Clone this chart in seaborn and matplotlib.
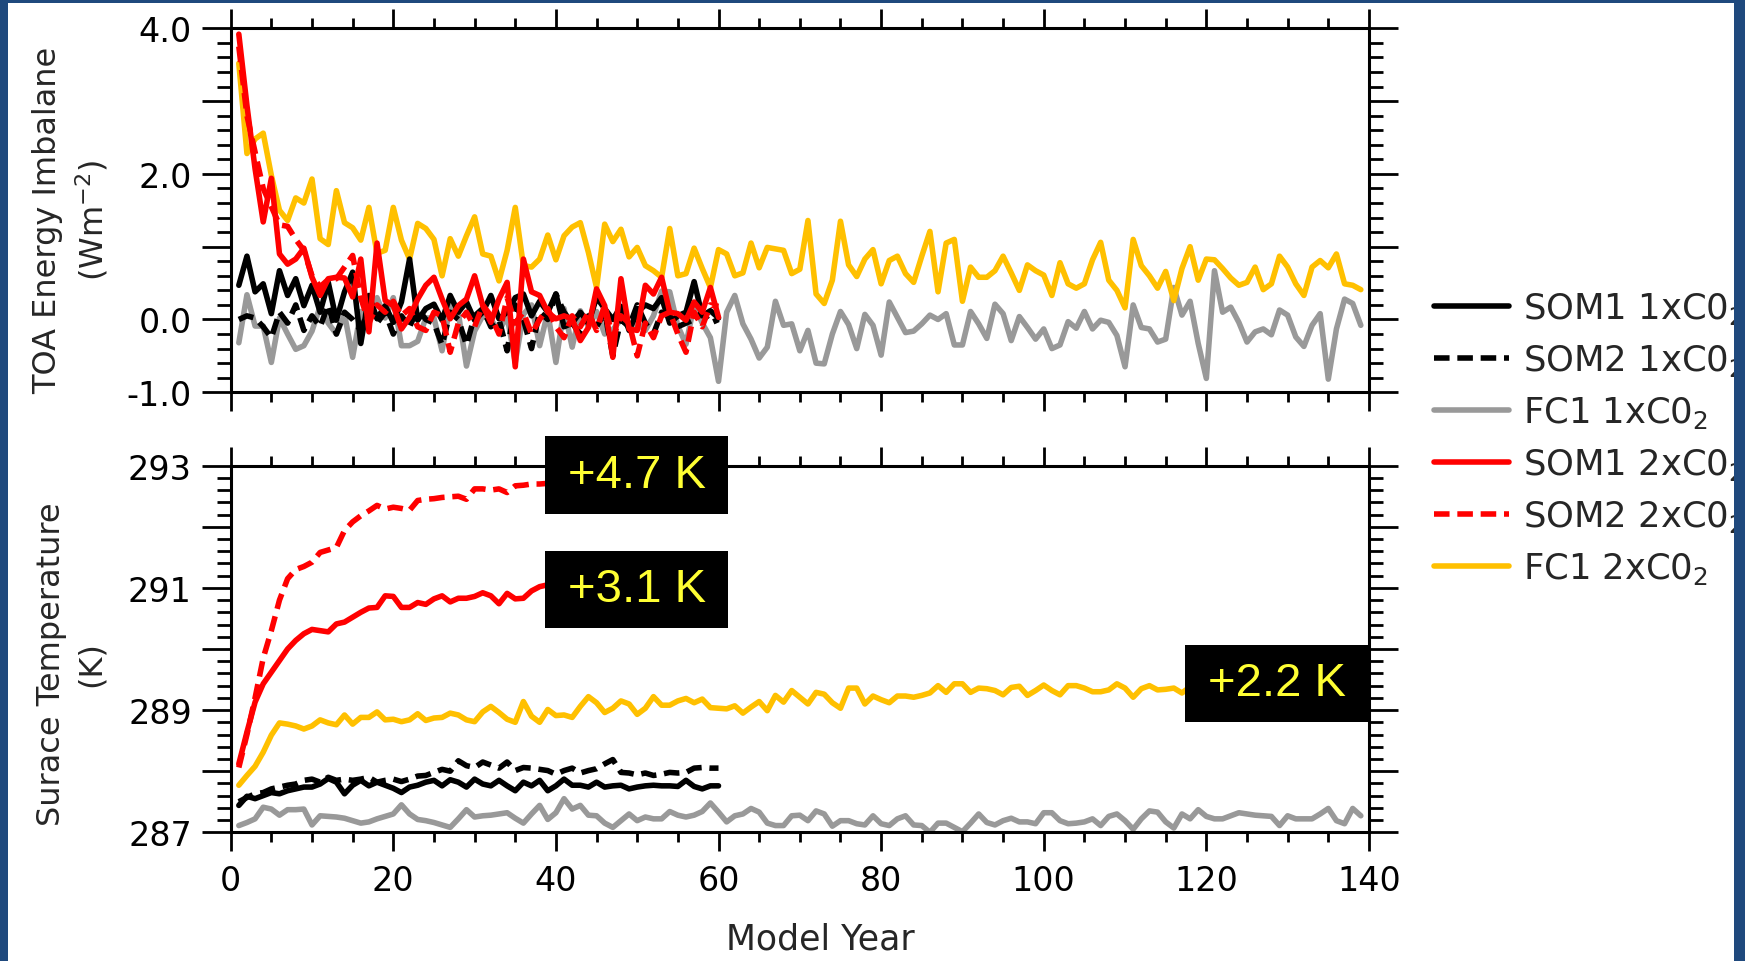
import numpy as np
import matplotlib
matplotlib.use("Agg")
import matplotlib.pyplot as plt
import matplotlib.ticker as mticker
from matplotlib.patches import Rectangle
import seaborn as sns

sns.set_style("ticks")
plt.rcParams['font.family'] = ['DejaVu Sans']

# ---- TOA energy imbalance (W m-2), one value per model year starting at year 1
toa_som1_1x = [0.47, 0.87, 0.38, 0.49, 0.08, 0.67, 0.33, 0.56, 0.19, 0.47,
               0.10, 0.51, -0.01, 0.38, 0.65, -0.33, 0.33, 0.01, 0.19, -0.04,
               0.24, 0.83, -0.01, 0.15, 0.21, -0.01, 0.33, 0.10, 0.24, -0.01,
               0.10, 0.33, 0.01, 0.10, 0.30, 0.35, 0.05, 0.25, 0.10, 0.35,
               -0.10, -0.05, 0.10, -0.05, 0.30, 0.15, 0.00, 0.18, -0.15, 0.10,
               0.20, 0.15, 0.30, -0.05, 0.05, 0.10, 0.52, 0.05, 0.12, 0.02]
toa_som2_1x = [0.00, 0.05, 0.02, -0.10, -0.25, 0.10, -0.05, 0.20, -0.15, 0.05,
               -0.10, 0.20, -0.20, 0.10, 0.00, -0.15, 0.15, -0.05, 0.10, -0.20,
               0.05, -0.10, 0.15, 0.00, -0.05, -0.35, 0.10, 0.00, -0.35, 0.05,
               0.15, -0.10, 0.00, -0.43, 0.20, 0.00, -0.40, 0.10, 0.00, 0.35,
               0.10, -0.05, -0.20, 0.05, -0.10, 0.10, -0.50, 0.00, -0.10, 0.20,
               -0.05, -0.20, 0.10, 0.05, -0.10, -0.05, 0.00, 0.10, -0.05, 0.00]
toa_fc1_1x = [-0.32, 0.34, -0.09, -0.09, -0.59, 0.02, -0.20, -0.41, -0.36, -0.16,
              0.18, -0.05, -0.20, 0.07, -0.52, 0.11, 0.07, 0.30, 0.02, 0.30,
              -0.36, -0.36, -0.30, 0.02, 0.02, -0.43, 0.20, 0.09, -0.64, -0.16,
              0.05, 0.00, -0.16, 0.05, -0.59, 0.07, 0.20, -0.36, 0.10, -0.59,
              0.15, -0.38, 0.12, -0.10, 0.11, -0.20, -0.14, 0.00, -0.10, -0.05,
              -0.15, 0.05, 0.39, 0.38, -0.09, -0.34, 0.20, -0.05, -0.25, -0.85,
              0.10, 0.33, -0.06, -0.27, -0.53, -0.38, 0.25, -0.08, -0.06, -0.43,
              -0.15, -0.60, -0.61, -0.20, 0.11, -0.07, -0.40, 0.07, -0.08, -0.49,
              0.24, 0.03, -0.18, -0.16, -0.06, 0.06, 0.00, 0.08, -0.35, -0.35,
              0.11, -0.06, -0.26, 0.21, 0.08, -0.29, 0.04, -0.11, -0.27, -0.13,
              -0.40, -0.35, -0.03, -0.12, 0.11, -0.13, -0.01, -0.04, -0.22, -0.65,
              0.20, -0.11, -0.13, -0.31, -0.27, 0.44, 0.06, 0.25, -0.33, -0.81,
              0.67, 0.10, 0.17, -0.04, -0.31, -0.17, -0.13, -0.21, 0.13, 0.06,
              -0.24, -0.37, -0.08, 0.08, -0.82, -0.13, 0.28, 0.22, -0.08]
toa_som1_2x = [3.92, 2.94, 2.07, 1.34, 1.94, 0.90, 0.76, 0.83, 0.98, 0.58,
               0.33, 0.56, 0.58, 0.57, 0.31, 0.83, -0.17, 1.05, 0.26, 0.19,
               -0.13, 0.03, 0.28, 0.47, 0.58, 0.28, 0.01, 0.19, 0.28, 0.60,
               0.19, -0.04, 0.28, 0.51, -0.65, 0.83, 0.38, 0.33, 0.10, 0.01,
               0.05, 0.01, -0.29, -0.11, 0.42, 0.19, -0.52, 0.56, -0.13, -0.15,
               0.47, 0.35, 0.58, 0.10, 0.08, -0.01, 0.24, 0.10, 0.44, 0.03]
toa_som2_2x = [3.75, 2.80, 2.30, 1.80, 1.55, 1.30, 1.28, 1.10, 0.95, 0.60,
               0.45, 0.55, 0.56, 0.72, 0.88, 0.30, -0.05, 0.20, 0.10, 0.25,
               0.05, 0.15, -0.10, -0.15, 0.10, 0.05, -0.45, -0.05, 0.10, -0.10,
               0.20, 0.05, -0.20, 0.30, -0.05, 0.10, -0.20, 0.00, 0.15, -0.10,
               -0.25, 0.05, -0.10, 0.10, -0.15, 0.20, -0.25, 0.05, -0.05, -0.50,
               -0.05, -0.25, 0.05, 0.10, -0.20, -0.45, 0.10, -0.10, 0.20, 0.18]
toa_fc1_2x = [3.52, 2.28, 2.48, 2.56, 1.98, 1.50, 1.36, 1.67, 1.60, 1.93,
              1.11, 1.03, 1.77, 1.33, 1.26, 1.09, 1.54, 0.91, 0.95, 1.54,
              1.09, 0.83, 1.32, 1.25, 1.10, 0.60, 1.11, 0.87, 1.15, 1.41,
              0.90, 0.87, 0.53, 0.95, 1.54, 0.74, 0.72, 0.83, 1.16, 0.82,
              1.15, 1.27, 1.33, 0.92, 0.44, 1.31, 1.07, 1.24, 0.86, 0.99,
              0.74, 0.67, 0.58, 1.25, 0.60, 0.63, 0.98, 0.70, 0.44, 0.96,
              0.90, 0.60, 0.64, 1.05, 0.71, 0.99, 0.97, 0.95, 0.63, 0.69,
              1.36, 0.35, 0.22, 0.54, 1.35, 0.75, 0.59, 0.83, 0.96, 0.49,
              0.81, 0.87, 0.63, 0.51, 0.87, 1.21, 0.38, 1.05, 1.10, 0.25,
              0.72, 0.58, 0.58, 0.67, 0.87, 0.64, 0.40, 0.75, 0.67, 0.61,
              0.33, 0.78, 0.49, 0.43, 0.49, 0.82, 1.06, 0.54, 0.40, 0.16,
              1.10, 0.74, 0.60, 0.43, 0.66, 0.26, 0.70, 1.00, 0.54, 0.83,
              0.82, 0.70, 0.57, 0.47, 0.51, 0.72, 0.41, 0.49, 0.87, 0.72,
              0.49, 0.33, 0.72, 0.81, 0.71, 0.90, 0.49, 0.47, 0.41]

# ---- surface temperature (K)
ts_som1_1x = [287.44, 287.59, 287.55, 287.60, 287.65, 287.63, 287.68, 287.71, 287.74, 287.74,
              287.79, 287.88, 287.82, 287.63, 287.77, 287.85, 287.76, 287.82, 287.77, 287.72,
              287.65, 287.74, 287.77, 287.82, 287.85, 287.76, 287.86, 287.82, 287.74, 287.87,
              287.79, 287.76, 287.85, 287.76, 287.68, 287.82, 287.76, 287.85, 287.68, 287.76,
              287.87, 287.77, 287.77, 287.74, 287.82, 287.74, 287.76, 287.77, 287.71, 287.74,
              287.76, 287.77, 287.76, 287.76, 287.75, 287.85, 287.75, 287.71, 287.76, 287.76]
ts_som2_1x = [287.50, 287.57, 287.63, 287.65, 287.71, 287.74, 287.77, 287.79, 287.85, 287.87,
              287.82, 287.90, 287.85, 287.87, 287.85, 287.87, 287.90, 287.82, 287.85, 287.87,
              287.83, 287.87, 287.92, 287.93, 287.98, 288.03, 288.00, 288.17, 288.09, 288.06,
              288.15, 288.10, 288.05, 288.15, 288.01, 288.06, 288.05, 288.03, 288.01, 287.95,
              288.01, 288.05, 287.97, 288.01, 288.04, 288.12, 288.19, 287.98, 287.97, 287.94,
              287.97, 287.93, 287.95, 287.98, 287.97, 287.98, 288.05, 288.06, 288.05, 288.05]
ts_fc1_1x = [287.11, 287.16, 287.22, 287.41, 287.38, 287.28, 287.37, 287.37, 287.38, 287.12,
             287.27, 287.26, 287.25, 287.23, 287.19, 287.15, 287.17, 287.22, 287.26, 287.30,
             287.45, 287.30, 287.21, 287.19, 287.16, 287.12, 287.08, 287.22, 287.37, 287.25,
             287.27, 287.28, 287.30, 287.32, 287.23, 287.15, 287.30, 287.44, 287.21, 287.32,
             287.55, 287.38, 287.44, 287.28, 287.27, 287.15, 287.08, 287.19, 287.30, 287.19,
             287.25, 287.22, 287.22, 287.34, 287.28, 287.25, 287.28, 287.34, 287.48, 287.33,
             287.17, 287.27, 287.30, 287.39, 287.33, 287.15, 287.11, 287.11, 287.27, 287.28,
             287.19, 287.35, 287.30, 287.10, 287.19, 287.19, 287.14, 287.12, 287.27, 287.14,
             287.11, 287.22, 287.27, 287.12, 287.11, 287.00, 287.15, 287.15, 287.08, 287.01,
             287.15, 287.30, 287.16, 287.12, 287.19, 287.23, 287.17, 287.17, 287.14, 287.32,
             287.32, 287.19, 287.14, 287.15, 287.17, 287.22, 287.11, 287.26, 287.30, 287.19,
             287.05, 287.22, 287.35, 287.33, 287.17, 287.07, 287.30, 287.22, 287.37, 287.26,
             287.22, 287.22, 287.27, 287.32, 287.30, 287.28, 287.27, 287.26, 287.11, 287.27,
             287.22, 287.22, 287.22, 287.30, 287.39, 287.19, 287.14, 287.39, 287.27]
ts_som1_2x = [288.12, 288.64, 289.13, 289.43, 289.62, 289.81, 290.00, 290.14, 290.25, 290.32,
              290.30, 290.28, 290.41, 290.44, 290.52, 290.60, 290.67, 290.68, 290.87, 290.86,
              290.68, 290.68, 290.76, 290.73, 290.82, 290.87, 290.77, 290.83, 290.83, 290.86,
              290.92, 290.87, 290.74, 290.91, 290.82, 290.83, 290.95, 291.02, 291.05, 291.08,
              291.06, 291.10, 291.08, 291.12, 291.09, 291.11, 291.10, 291.13, 291.10, 291.12,
              291.14, 291.11, 291.13, 291.12, 291.15, 291.13, 291.14, 291.12, 291.15, 291.14]
ts_som2_2x = [288.06, 288.60, 289.20, 289.85, 290.30, 290.80, 291.15, 291.30, 291.35, 291.42,
              291.58, 291.62, 291.66, 291.94, 292.08, 292.18, 292.26, 292.35, 292.29, 292.32,
              292.30, 292.27, 292.43, 292.45, 292.46, 292.48, 292.49, 292.50, 292.45, 292.62,
              292.62, 292.60, 292.62, 292.56, 292.67, 292.68, 292.70, 292.70, 292.71, 292.72,
              292.74, 292.73, 292.75, 292.76, 292.74, 292.77, 292.78, 292.76, 292.79, 292.80,
              292.78, 292.81, 292.80, 292.82, 292.81, 292.83, 292.82, 292.84, 292.83, 292.85]
ts_fc1_2x = [287.77, 287.93, 288.08, 288.31, 288.59, 288.79, 288.77, 288.74, 288.69, 288.74,
             288.84, 288.79, 288.76, 288.92, 288.77, 288.88, 288.88, 288.97, 288.84, 288.85,
             288.81, 288.84, 288.94, 288.83, 288.87, 288.88, 288.95, 288.92, 288.84, 288.81,
             288.97, 289.06, 288.96, 288.85, 288.80, 289.14, 288.90, 288.80, 289.01, 288.91,
             288.92, 288.88, 289.06, 289.22, 289.12, 288.96, 289.03, 289.15, 289.10, 288.93,
             289.03, 289.22, 289.08, 289.08, 289.15, 289.19, 289.12, 289.18, 289.04, 289.03,
             289.02, 289.07, 288.95, 289.05, 289.14, 288.99, 289.24, 289.13, 289.32, 289.21,
             289.10, 289.29, 289.26, 289.12, 289.03, 289.36, 289.36, 289.10, 289.23, 289.17,
             289.12, 289.23, 289.23, 289.21, 289.24, 289.28, 289.40, 289.29, 289.43, 289.43,
             289.29, 289.36, 289.35, 289.32, 289.25, 289.37, 289.39, 289.24, 289.32, 289.41,
             289.32, 289.25, 289.40, 289.40, 289.36, 289.30, 289.30, 289.33, 289.43, 289.36,
             289.21, 289.35, 289.40, 289.33, 289.34, 289.36, 289.28, 289.38, 289.33, 289.40,
             289.36, 289.31, 289.42, 289.37, 289.35, 289.40, 289.44, 289.36, 289.39, 289.42,
             289.35, 289.41, 289.38, 289.45, 289.40, 289.37, 289.43, 289.40, 289.42]

labels = ["SOM1 1xC0$_2$", "SOM2 1xC0$_2$", "FC1 1xC0$_2$",
          "SOM1 2xC0$_2$", "SOM2 2xC0$_2$", "FC1 2xC0$_2$"]
toa_series = [toa_som1_1x, toa_som2_1x, toa_fc1_1x, toa_som1_2x, toa_som2_2x, toa_fc1_2x]
ts_series = [ts_som1_1x, ts_som2_1x, ts_fc1_1x, ts_som1_2x, ts_som2_2x, ts_fc1_2x]
warming_labels = ["+4.7 K", "+3.1 K", "+2.2 K"]

# styles (same order as labels)
colors = ["black", "black", "#999999", "#ff0000", "#ff0000", "#ffc000"]
dash = (0, (2.8, 1.4))
styles = ["-", dash, "-", "-", dash, "-"]
draw_order = [2, 5, 1, 0, 4, 3]
LW = 4.0

fig = plt.figure(figsize=(17.45, 9.62), dpi=100)
ax1 = fig.add_axes([0.1322, 0.5912, 0.6523, 0.3783])
ax2 = fig.add_axes([0.1322, 0.1338, 0.6523, 0.3811])

handles = {}
for i in draw_order:
    for ax, vals in ((ax1, toa_series[i]), (ax2, ts_series[i])):
        yrs = np.arange(1, len(vals) + 1)
        sns.lineplot(x=yrs, y=vals, ax=ax, color=colors[i], legend=False)
        ln = ax.lines[-1]
        ln.set_linewidth(LW)
        ln.set_linestyle(styles[i])
        ln.set_solid_joinstyle('round')
        ln.set_dash_joinstyle('round')
    handles[i] = ax1.lines[-1]

for ax in (ax1, ax2):
    ax.set_xlim(0, 140)
    ax.xaxis.set_major_locator(mticker.MultipleLocator(20))
    ax.xaxis.set_minor_locator(mticker.MultipleLocator(5))
    ax.tick_params(which='both', direction='out', top=True, right=True,
                   width=2.0, labelsize=24, colors='black')
    ax.tick_params(axis='x', which='major', length=14, pad=9)
    ax.tick_params(axis='x', which='minor', length=7)
    ax.tick_params(axis='y', which='major', length=21, pad=7)
    ax.tick_params(axis='y', which='minor', length=10)
    for s in ax.spines.values():
        s.set_visible(True)
        s.set_linewidth(2.2)
        s.set_color('black')
    ax.set_xlabel("")
    ax.set_ylabel("")
    ax.yaxis.set_minor_locator(mticker.MultipleLocator(0.2))

ax1.tick_params(axis='x', labelbottom=False)
ax1.set_ylim(-1, 4)
ax1.yaxis.set_major_locator(mticker.FixedLocator([-1, 0, 1, 2, 3, 4]))
top_lab = {-1: "-1.0", 0: "0.0", 2: "2.0", 4: "4.0"}
ax1.yaxis.set_major_formatter(mticker.FuncFormatter(lambda v, p: top_lab.get(int(round(v)), "")))

ax2.set_ylim(287, 293)
ax2.yaxis.set_major_locator(mticker.FixedLocator(np.arange(287, 294)))
ax2.yaxis.set_major_formatter(mticker.FuncFormatter(
    lambda v, p: "%d" % round(v) if int(round(v)) % 2 == 1 else ""))

fig.text(0.041, 0.771, "TOA Energy Imbalane\n(Wm$^{\\mathregular{-2}}$)", rotation=90,
         ha='center', va='center', multialignment='center', fontsize=23, linespacing=1.35)
fig.text(0.041, 0.310, "Surace Temperature\n(K)", rotation=90,
         ha='center', va='center', multialignment='center', fontsize=23, linespacing=1.35)
fig.text(0.470, 0.023, "Model Year", ha='center', va='center', fontsize=25)

# warming annotation boxes
box_pos = [(38.7, 292.21), (38.7, 290.34), (117.4, 288.80)]
for txt, (bx, by) in zip(warming_labels, box_pos):
    ax2.add_patch(Rectangle((bx, by), 22.5, 1.27, facecolor='black', edgecolor='none',
                            zorder=6, clip_on=False))
    ax2.text(bx + 11.25, by + 0.635, txt, color='#ffff33', fontsize=34,
             family=['Liberation Sans', 'DejaVu Sans'], ha='center', va='center',
             zorder=7, clip_on=False)

fig.legend([handles[i] for i in range(6)], labels, loc='upper left',
           bbox_to_anchor=(0.822, 0.697), frameon=False, fontsize=25.5,
           handlelength=2.1, handletextpad=0.4, labelspacing=0.45,
           borderpad=0, borderaxespad=0)

# dark blue slide frame
frame = '#1f497d'
for rect in [(0, 0, 8 / 1745, 1), (0, 1 - 4 / 962, 1, 4 / 962), (1 - 11 / 1745, 0, 11 / 1745, 1)]:
    fig.add_artist(Rectangle(rect[:2], rect[2], rect[3], transform=fig.transFigure,
                             facecolor=frame, edgecolor='none', zorder=20))

fig.savefig("out.png", dpi=100)
